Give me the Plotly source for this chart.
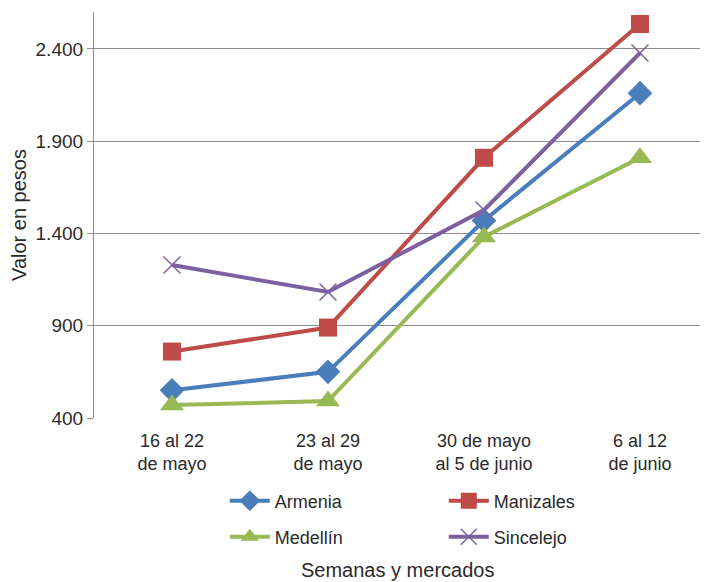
import plotly.graph_objects as go

categories = ["16 al 22<br>de mayo", "23 al 29<br>de mayo", "30 de mayo<br>al 5 de junio", "6 al 12<br>de junio"]
armenia = [550, 650, 1470, 2160]
manizales = [760, 890, 1810, 2535]
medellin = [470, 492, 1381, 1810]
sincelejo = [1229, 1083, 1527, 2378]
y_ticks = [400, 900, 1400, 1900, 2400]

series = [
    ("Armenia", armenia, "#4a7ebb", "diamond", 19, "legend"),
    ("Manizales", manizales, "#be4b48", "square", 18, "legend"),
    ("Medellín", medellin, "#98b954", "triangle-up", 21, "legend2"),
    ("Sincelejo", sincelejo, "#7d60a0", "x-thin", 17, "legend2"),
]

fig = go.Figure()
for name, vals, color, sym, size, leg in series:
    marker = dict(symbol=sym, size=size, color=color)
    if sym == "x-thin":
        marker["line"] = dict(color=color, width=1.5)
    fig.add_trace(go.Scatter(
        x=list(range(len(categories))), y=vals, name=name, mode="lines+markers",
        line=dict(color=color, width=4), marker=marker, legend=leg,
    ))

PLOT_TOP, PLOT_BOTTOM = 12, 418
PH = PLOT_BOTTOM - PLOT_TOP

def py(pix):
    return (PLOT_BOTTOM - pix) / PH

legend_common = dict(orientation="h", xanchor="left", yanchor="middle",
                     entrywidth=164, entrywidthmode="pixels",
                     font=dict(size=18, color="#2a2a2a"), itemwidth=40,
                     bgcolor="rgba(0,0,0,0)")

fig.update_layout(
    width=700, height=574,
    margin=dict(l=86, r=0, t=4, b=164),
    paper_bgcolor="white", plot_bgcolor="white",
    font=dict(family="Liberation Sans, Arial, sans-serif", size=18, color="#2a2a2a"),
    separators=",.",
    showlegend=True,
    legend=dict(x=0.213, y=py(501), **legend_common),
    legend2=dict(x=0.213, y=py(537), **legend_common),
    annotations=[dict(text="Semanas y mercados", x=(397 - 94) / 614, xref="paper",
                      y=py(570), yref="paper", yanchor="middle", showarrow=False,
                      font=dict(size=20))],
)
fig.update_xaxes(
    tickmode="array", tickvals=list(range(len(categories))), ticktext=categories,
    range=[-0.5, 3.436], showgrid=False, zeroline=False, showline=False,
    tickfont=dict(size=18), ticks="", ticklabelstandoff=10,
)
fig.update_yaxes(
    range=[400, 2600], tickvals=y_ticks, tickformat=",d",
    showgrid=True, gridcolor="#8c8c8c", gridwidth=1.2,
    showline=True, linecolor="#8c8c8c", linewidth=1.2,
    ticks="outside", ticklen=6, tickcolor="#8c8c8c",
    zeroline=False, tickfont=dict(size=19),
    title=dict(text="Valor en pesos", font=dict(size=20), standoff=6),
)
fig.write_html("out.html")
